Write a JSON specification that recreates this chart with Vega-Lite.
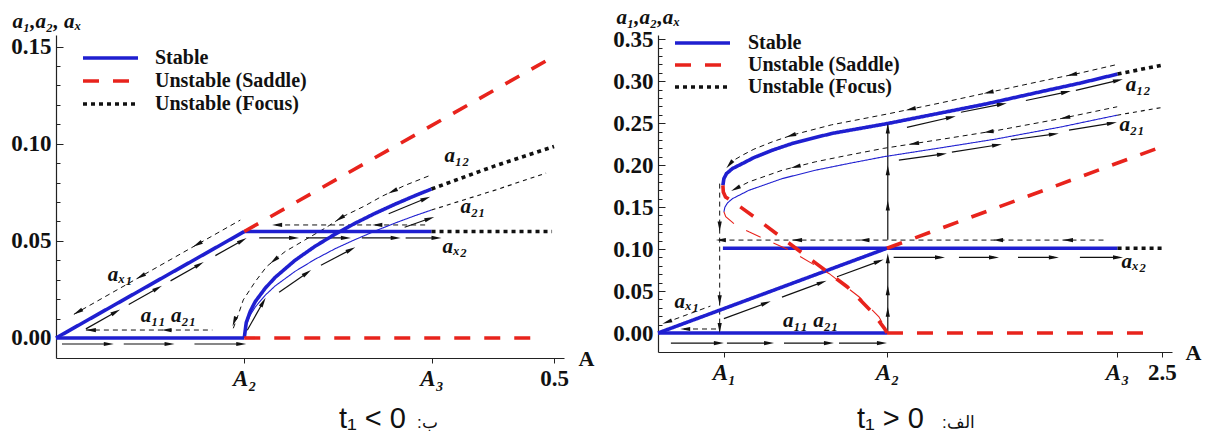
{
"$schema": "https://vega.github.io/schema/vega-lite/v6.json",
"background": "white",
"padding": {"left": 10, "top": 6, "right": 5, "bottom": 5},
"spacing": 94,
"bounds": "flush",
"resolve": {"scale": {"color": "independent", "strokeDash": "independent", "strokeWidth": "independent", "size": "independent"}, "legend": {"color": "independent", "strokeDash": "independent"}},
"config": {
  "view": {"stroke": null},
  "font": "Liberation Serif",
  "axis": {"labelFont": "Liberation Serif", "labelFontWeight": "bold", "labelFontSize": 23, "labelColor": "#111", "titleFont": "Liberation Serif", "titleFontWeight": "bold", "titleColor": "#111", "domainColor": "#222", "tickColor": "#222", "grid": false, "domainWidth": 1.2, "tickWidth": 1, "labelOverlap": false, "labelFlush": false, "labelBound": false},
  "legend": {"labelFont": "Liberation Serif", "labelFontWeight": "bold", "labelFontSize": 20, "labelColor": "#111", "symbolType": "stroke", "symbolSize": 3025, "symbolStrokeWidth": 3.6, "clipHeight": 20, "padding": 0}
},
"datasets": {
  "lc": [
    {"c":"ax1","k":"Stable","w":"thick","A":0,"y":0},{"c":"ax1","k":"Stable","w":"thick","A":0.189,"y":0.0548},
    {"c":"a11","k":"Stable","w":"thick","A":0,"y":0},{"c":"a11","k":"Stable","w":"thick","A":0.189,"y":0},
    {"c":"ax2","k":"Stable","w":"thick","A":0.189,"y":0.0548},{"c":"ax2","k":"Stable","w":"thick","A":0.377,"y":0.0548},
    {"c":"a12","k":"Stable","w":"thick","A":0.189,"y":0},{"c":"a12","k":"Stable","w":"thick","A":0.191,"y":0.0079},{"c":"a12","k":"Stable","w":"thick","A":0.195,"y":0.0137},{"c":"a12","k":"Stable","w":"thick","A":0.2,"y":0.0187},{"c":"a12","k":"Stable","w":"thick","A":0.21,"y":0.0256},{"c":"a12","k":"Stable","w":"thick","A":0.22,"y":0.0312},{"c":"a12","k":"Stable","w":"thick","A":0.24,"y":0.04},{"c":"a12","k":"Stable","w":"thick","A":0.26,"y":0.0472},{"c":"a12","k":"Stable","w":"thick","A":0.28,"y":0.0534},{"c":"a12","k":"Stable","w":"thick","A":0.3,"y":0.059},{"c":"a12","k":"Stable","w":"thick","A":0.32,"y":0.0641},{"c":"a12","k":"Stable","w":"thick","A":0.34,"y":0.0688},{"c":"a12","k":"Stable","w":"thick","A":0.36,"y":0.0732},{"c":"a12","k":"Stable","w":"thick","A":0.377,"y":0.0767},
    {"c":"a21","k":"Stable","w":"thin","A":0.189,"y":0},{"c":"a21","k":"Stable","w":"thin","A":0.191,"y":0.0068},{"c":"a21","k":"Stable","w":"thin","A":0.195,"y":0.0118},{"c":"a21","k":"Stable","w":"thin","A":0.2,"y":0.0159},{"c":"a21","k":"Stable","w":"thin","A":0.21,"y":0.022},{"c":"a21","k":"Stable","w":"thin","A":0.22,"y":0.0268},{"c":"a21","k":"Stable","w":"thin","A":0.24,"y":0.0343},{"c":"a21","k":"Stable","w":"thin","A":0.26,"y":0.0405},{"c":"a21","k":"Stable","w":"thin","A":0.28,"y":0.0459},{"c":"a21","k":"Stable","w":"thin","A":0.3,"y":0.0506},{"c":"a21","k":"Stable","w":"thin","A":0.32,"y":0.055},{"c":"a21","k":"Stable","w":"thin","A":0.34,"y":0.0591},{"c":"a21","k":"Stable","w":"thin","A":0.36,"y":0.0629},{"c":"a21","k":"Stable","w":"thin","A":0.377,"y":0.0659},
    {"c":"s1","k":"Unstable (Saddle)","w":"thick","A":0.189,"y":0.0548},{"c":"s1","k":"Unstable (Saddle)","w":"thick","A":0.5,"y":0.145},
    {"c":"s0","k":"Unstable (Saddle)","w":"thick","A":0.189,"y":0},{"c":"s0","k":"Unstable (Saddle)","w":"thick","A":0.487,"y":0},
    {"c":"f12","k":"Unstable (Focus)","w":"thick","A":0.377,"y":0.0767},{"c":"f12","k":"Unstable (Focus)","w":"thick","A":0.44,"y":0.0885},{"c":"f12","k":"Unstable (Focus)","w":"thick","A":0.5,"y":0.0986},
    {"c":"fx2","k":"Unstable (Focus)","w":"thick","A":0.377,"y":0.0548},{"c":"fx2","k":"Unstable (Focus)","w":"thick","A":0.498,"y":0.0548},
    {"c":"f21","k":"Unstable (Focus)","w":"thin","A":0.377,"y":0.0659},{"c":"f21","k":"Unstable (Focus)","w":"thin","A":0.44,"y":0.076},{"c":"f21","k":"Unstable (Focus)","w":"thin","A":0.492,"y":0.0849}
  ],
  "lg": [
    {"c":"g1","A":0.03,"y":0.0041},{"c":"g1","A":0.157,"y":0.0041},
    {"c":"g2","A":0.018,"y":0.0122},{"c":"g2","A":0.185,"y":0.0607},
    {"c":"g3","A":0.221,"y":0.0582},{"c":"g3","A":0.372,"y":0.0582},
    {"c":"g4","A":0.178,"y":0.005},{"c":"g4","A":0.183,"y":0.012},{"c":"g4","A":0.188,"y":0.0196},{"c":"g4","A":0.2,"y":0.029},{"c":"g4","A":0.2115,"y":0.0368},{"c":"g4","A":0.23,"y":0.0445},{"c":"g4","A":0.25,"y":0.0505},{"c":"g4","A":0.27,"y":0.0565},{"c":"g4","A":0.288,"y":0.0625},{"c":"g4","A":0.31,"y":0.068},{"c":"g4","A":0.327,"y":0.0729},{"c":"g4","A":0.35,"y":0.0785},{"c":"g4","A":0.377,"y":0.084}
  ],
  "ls": [
    {"A":0.006,"y":-0.0031,"A2":0.053,"y2":-0.0031},{"A":0.068,"y":-0.0031,"A2":0.114,"y2":-0.0031},{"A":0.139,"y":-0.0031,"A2":0.186,"y2":-0.0031},
    {"A":0.03,"y":0.0047,"A2":0.06,"y2":0.0134},{"A":0.073,"y":0.0172,"A2":0.102,"y2":0.0256},{"A":0.115,"y":0.0294,"A2":0.144,"y2":0.0378},{"A":0.16,"y":0.0424,"A2":0.187,"y2":0.0502},
    {"A":0.204,"y":0.0515,"A2":0.239,"y2":0.0515},{"A":0.251,"y":0.0515,"A2":0.291,"y2":0.0515},{"A":0.307,"y":0.0515,"A2":0.341,"y2":0.0515},{"A":0.351,"y":0.0515,"A2":0.382,"y2":0.0515},
    {"A":0.192,"y":0.004,"A2":0.208,"y2":0.0185},{"A":0.224,"y":0.0235,"A2":0.252,"y2":0.0335},{"A":0.266,"y":0.0375,"A2":0.296,"y2":0.0455},{"A":0.35,"y":0.057,"A2":0.375,"y2":0.0615},{"A":0.334,"y":0.064,"A2":0.371,"y2":0.0718}
  ],
  "lh": [
    {"A":0.053,"y":-0.0031,"ang":0},{"A":0.114,"y":-0.0031,"ang":0},{"A":0.186,"y":-0.0031,"ang":0},
    {"A":0.06,"y":0.0134,"ang":-29.5},{"A":0.102,"y":0.0256,"ang":-29.5},{"A":0.144,"y":0.0378,"ang":-29.5},{"A":0.187,"y":0.0502,"ang":-29.5},
    {"A":0.239,"y":0.0515,"ang":0},{"A":0.291,"y":0.0515,"ang":0},{"A":0.341,"y":0.0515,"ang":0},{"A":0.382,"y":0.0515,"ang":0},
    {"A":0.208,"y":0.0185,"ang":-60.5},{"A":0.252,"y":0.0335,"ang":-34.8},{"A":0.296,"y":0.0455,"ang":-27.4},{"A":0.375,"y":0.0615,"ang":-19.3},{"A":0.371,"y":0.0718,"ang":-22.3},
    {"A":0.035,"y":0.0041,"ang":180},{"A":0.111,"y":0.0041,"ang":180},
    {"A":0.022,"y":0.0134,"ang":150.5},{"A":0.085,"y":0.0317,"ang":150.5},{"A":0.142,"y":0.0482,"ang":150.5},
    {"A":0.222,"y":0.0582,"ang":180},{"A":0.3226,"y":0.0582,"ang":180},
    {"A":0.179,"y":0.0085,"ang":110},{"A":0.219,"y":0.04,"ang":141},{"A":0.285,"y":0.0615,"ang":147},{"A":0.338,"y":0.0755,"ang":154.5}
  ],
  "lt": [
    {"t":"a₁₂","A":0.39,"y":0.0935},{"t":"a₂₁","A":0.406,"y":0.0677},{"t":"aₓ₂","A":0.388,"y":0.047},{"t":"aₓ₁","A":0.052,"y":0.0325},{"t":"a₁₁ a₂₁","A":0.085,"y":0.0112}
  ],
  "lcap": [
    {"t":"t₁ < 0","A":0.284,"y":-0.0464,"p":"main"},{"t":":ب","A":0.3625,"y":-0.0464,"p":"ar"}
  ],
  "rc": [
    {"c":"ax1","k":"Stable","w":"thick","A":0,"y":0},{"c":"ax1","k":"Stable","w":"thick","A":1.136,"y":0.101},
    {"c":"a11","k":"Stable","w":"thick","A":0,"y":0},{"c":"a11","k":"Stable","w":"thick","A":1.136,"y":0},
    {"c":"ax2","k":"Stable","w":"thick","A":0.322,"y":0.101},{"c":"ax2","k":"Stable","w":"thick","A":2.28,"y":0.101},
    {"c":"a12","k":"Stable","w":"thick","A":0.322,"y":0.176},{"c":"a12","k":"Stable","w":"thick","A":0.327,"y":0.184},{"c":"a12","k":"Stable","w":"thick","A":0.34,"y":0.19},{"c":"a12","k":"Stable","w":"thick","A":0.37,"y":0.196},{"c":"a12","k":"Stable","w":"thick","A":0.42,"y":0.202},{"c":"a12","k":"Stable","w":"thick","A":0.476,"y":0.209},{"c":"a12","k":"Stable","w":"thick","A":0.57,"y":0.218},{"c":"a12","k":"Stable","w":"thick","A":0.669,"y":0.226},{"c":"a12","k":"Stable","w":"thick","A":0.861,"y":0.2377},{"c":"a12","k":"Stable","w":"thick","A":1.14,"y":0.2496},{"c":"a12","k":"Stable","w":"thick","A":1.4,"y":0.262},{"c":"a12","k":"Stable","w":"thick","A":1.63,"y":0.273},{"c":"a12","k":"Stable","w":"thick","A":1.9,"y":0.2875},{"c":"a12","k":"Stable","w":"thick","A":2.1,"y":0.298},{"c":"a12","k":"Stable","w":"thick","A":2.28,"y":0.3085},
    {"c":"a21","k":"Stable","w":"thin","A":0.327,"y":0.1444},{"c":"a21","k":"Stable","w":"thin","A":0.332,"y":0.15},{"c":"a21","k":"Stable","w":"thin","A":0.345,"y":0.155},{"c":"a21","k":"Stable","w":"thin","A":0.369,"y":0.16},{"c":"a21","k":"Stable","w":"thin","A":0.451,"y":0.17},{"c":"a21","k":"Stable","w":"thin","A":0.617,"y":0.184},{"c":"a21","k":"Stable","w":"thin","A":0.782,"y":0.194},{"c":"a21","k":"Stable","w":"thin","A":0.947,"y":0.202},{"c":"a21","k":"Stable","w":"thin","A":1.12,"y":0.21},{"c":"a21","k":"Stable","w":"thin","A":1.4,"y":0.2205},{"c":"a21","k":"Stable","w":"thin","A":1.675,"y":0.231},{"c":"a21","k":"Stable","w":"thin","A":2.0,"y":0.2455},{"c":"a21","k":"Stable","w":"thin","A":2.278,"y":0.2595},
    {"c":"s1","k":"Unstable (Saddle)","w":"thick","A":1.136,"y":0.101},{"c":"s1","k":"Unstable (Saddle)","w":"thick","A":2.5,"y":0.222},
    {"c":"s0","k":"Unstable (Saddle)","w":"thick","A":1.136,"y":0},{"c":"s0","k":"Unstable (Saddle)","w":"thick","A":2.475,"y":0},
    {"c":"sN","k":"Unstable (Saddle)","w":"thick","A":0.322,"y":0.176},{"c":"sN","k":"Unstable (Saddle)","w":"thick","A":0.324,"y":0.168},{"c":"sN","k":"Unstable (Saddle)","w":"thick","A":0.335,"y":0.162},{"c":"sN","k":"Unstable (Saddle)","w":"thick","A":0.369,"y":0.157},{"c":"sN","k":"Unstable (Saddle)","w":"thick","A":0.476,"y":0.1385},{"c":"sN","k":"Unstable (Saddle)","w":"thick","A":0.63,"y":0.1107},{"c":"sN","k":"Unstable (Saddle)","w":"thick","A":0.784,"y":0.0829},{"c":"sN","k":"Unstable (Saddle)","w":"thick","A":0.938,"y":0.0552},{"c":"sN","k":"Unstable (Saddle)","w":"thick","A":1.052,"y":0.0274},{"c":"sN","k":"Unstable (Saddle)","w":"thick","A":1.1,"y":0.013},{"c":"sN","k":"Unstable (Saddle)","w":"thick","A":1.125,"y":0.005},{"c":"sN","k":"Unstable (Saddle)","w":"thick","A":1.136,"y":0},
    {"c":"sT","k":"Unstable (Saddle)","w":"thin","A":0.327,"y":0.1444},{"c":"sT","k":"Unstable (Saddle)","w":"thin","A":0.336,"y":0.1385},{"c":"sT","k":"Unstable (Saddle)","w":"thin","A":0.385,"y":0.1286},{"c":"sT","k":"Unstable (Saddle)","w":"thin","A":0.451,"y":0.1206},{"c":"sT","k":"Unstable (Saddle)","w":"thin","A":0.65,"y":0.0988},{"c":"sT","k":"Unstable (Saddle)","w":"thin","A":0.848,"y":0.071},{"c":"sT","k":"Unstable (Saddle)","w":"thin","A":0.997,"y":0.0432},{"c":"sT","k":"Unstable (Saddle)","w":"thin","A":1.096,"y":0.0194},{"c":"sT","k":"Unstable (Saddle)","w":"thin","A":1.132,"y":0.0036},{"c":"sT","k":"Unstable (Saddle)","w":"thin","A":1.136,"y":0},
    {"c":"fx2","k":"Unstable (Focus)","w":"thick","A":2.28,"y":0.101},{"c":"fx2","k":"Unstable (Focus)","w":"thick","A":2.5,"y":0.101},
    {"c":"f12","k":"Unstable (Focus)","w":"thick","A":2.28,"y":0.3085},{"c":"f12","k":"Unstable (Focus)","w":"thick","A":2.5,"y":0.319},
    {"c":"f21","k":"Unstable (Focus)","w":"thin","A":2.278,"y":0.2595},{"c":"f21","k":"Unstable (Focus)","w":"thin","A":2.5,"y":0.2687}
  ],
  "rg": [
    {"c":"d1","A":0.129,"y":0.0048},{"c":"d1","A":0.303,"y":0.0048},
    {"c":"d2","A":0.04,"y":0.0126},{"c":"d2","A":0.26,"y":0.0321},
    {"c":"d3","A":0.31,"y":0.1107},{"c":"d3","A":2.23,"y":0.1107},
    {"c":"d4","A":0.352,"y":0.2},{"c":"d4","A":0.37,"y":0.205},{"c":"d4","A":0.42,"y":0.212},{"c":"d4","A":0.476,"y":0.219},{"c":"d4","A":0.57,"y":0.228},{"c":"d4","A":0.669,"y":0.236},{"c":"d4","A":0.861,"y":0.248},{"c":"d4","A":1.14,"y":0.261},{"c":"d4","A":1.4,"y":0.274},{"c":"d4","A":1.63,"y":0.286},{"c":"d4","A":1.9,"y":0.3},{"c":"d4","A":2.1,"y":0.31},{"c":"d4","A":2.28,"y":0.32},
    {"c":"d5","A":0.385,"y":0.172},{"c":"d5","A":0.451,"y":0.18},{"c":"d5","A":0.617,"y":0.194},{"c":"d5","A":0.782,"y":0.204},{"c":"d5","A":0.947,"y":0.212},{"c":"d5","A":1.12,"y":0.22},{"c":"d5","A":1.4,"y":0.2305},{"c":"d5","A":1.675,"y":0.241},{"c":"d5","A":2.0,"y":0.2555},{"c":"d5","A":2.278,"y":0.2695},
    {"c":"d7","A":0.306,"y":0.178},{"c":"d7","A":0.306,"y":0.002}
  ],
  "rs": [
    {"A":0.064,"y":-0.012,"A2":0.302,"y2":-0.012},{"A":0.342,"y":-0.012,"A2":0.551,"y2":-0.012},{"A":0.625,"y":-0.012,"A2":0.848,"y2":-0.012},{"A":0.898,"y":-0.012,"A2":1.111,"y2":-0.012},
    {"A":0.327,"y":0.0171,"A2":0.536,"y2":0.0357},{"A":0.615,"y":0.0427,"A2":0.813,"y2":0.0603},{"A":0.888,"y":0.067,"A2":1.096,"y2":0.0854},
    {"A":1.169,"y":0.09,"A2":1.399,"y2":0.09},{"A":1.493,"y":0.09,"A2":1.667,"y2":0.09},{"A":1.786,"y":0.09,"A2":1.964,"y2":0.09},{"A":2.093,"y":0.09,"A2":2.282,"y2":0.09},
    {"A":1.235,"y":0.245,"A2":1.453,"y2":0.257},{"A":1.503,"y":0.263,"A2":1.706,"y2":0.2726},{"A":1.825,"y":0.277,"A2":2.024,"y2":0.287},{"A":2.073,"y":0.289,"A2":2.282,"y2":0.301},
    {"A":1.195,"y":0.206,"A2":1.409,"y2":0.213},{"A":1.458,"y":0.2155,"A2":1.682,"y2":0.224},{"A":1.751,"y":0.23,"A2":1.964,"y2":0.237},{"A":2.039,"y":0.2417,"A2":2.252,"y2":0.25},
    {"A":1.14,"y":0,"A2":1.14,"y2":0.09},{"A":1.14,"y":0.111,"A2":1.14,"y2":0.25}
  ],
  "rh": [
    {"A":0.302,"y":-0.012,"ang":0},{"A":0.551,"y":-0.012,"ang":0},{"A":0.848,"y":-0.012,"ang":0},{"A":1.111,"y":-0.012,"ang":0},
    {"A":0.536,"y":0.0357,"ang":-20.3},{"A":0.813,"y":0.0603,"ang":-20.3},{"A":1.096,"y":0.0854,"ang":-20.3},
    {"A":1.399,"y":0.09,"ang":0},{"A":1.667,"y":0.09,"ang":0},{"A":1.964,"y":0.09,"ang":0},{"A":2.282,"y":0.09,"ang":0},
    {"A":1.453,"y":0.257,"ang":-12.9},{"A":1.706,"y":0.2726,"ang":-11.1},{"A":2.024,"y":0.287,"ang":-11.8},{"A":2.282,"y":0.301,"ang":-13.5},
    {"A":1.409,"y":0.213,"ang":-7.8},{"A":1.682,"y":0.224,"ang":-8.9},{"A":1.964,"y":0.237,"ang":-7.8},{"A":2.252,"y":0.25,"ang":-9.3},
    {"A":1.14,"y":0.0254,"ang":-90},{"A":1.14,"y":0.051,"ang":-90},{"A":1.14,"y":0.089,"ang":-90},{"A":1.14,"y":0.152,"ang":-90},{"A":1.14,"y":0.194,"ang":-90},{"A":1.14,"y":0.2436,"ang":-90},
    {"A":0.135,"y":0.0048,"ang":180},{"A":0.045,"y":0.013,"ang":159.7},
    {"A":0.312,"y":0.1107,"ang":180},{"A":0.69,"y":0.1107,"ang":180},{"A":1.024,"y":0.1107,"ang":180},{"A":1.687,"y":0.1107,"ang":180},{"A":2.034,"y":0.1107,"ang":180},
    {"A":0.355,"y":0.2008,"ang":130},{"A":0.66,"y":0.2353,"ang":161.4},{"A":1.254,"y":0.2667,"ang":168.2},{"A":1.64,"y":0.2866,"ang":167.8},{"A":2.054,"y":0.3077,"ang":167.6},
    {"A":0.385,"y":0.172,"ang":153.1},{"A":0.683,"y":0.198,"ang":165.8},{"A":1.27,"y":0.2255,"ang":171.1},{"A":1.64,"y":0.2397,"ang":172},{"A":2.02,"y":0.2564,"ang":168.4},
    {"A":0.306,"y":0.127,"ang":90},{"A":0.306,"y":0.039,"ang":90},{"A":0.306,"y":0.006,"ang":90}
  ],
  "rt": [
    {"t":"a₁₂","A":2.32,"y":0.295},{"t":"a₂₁","A":2.29,"y":0.2476},{"t":"aₓ₂","A":2.3,"y":0.085},{"t":"aₓ₁","A":0.082,"y":0.0373},{"t":"a₁₁ a₂₁","A":0.62,"y":0.0145}
  ],
  "rcap": [
    {"t":"t₁ > 0","A":0.987,"y":-0.1131,"p":"main"},{"t":":الف","A":1.409,"y":-0.1131,"p":"ar"}
  ]
},
"hconcat": [
  {
    "width": 508, "height": 323,
    "encoding": {
      "x": {"field": "A", "type": "quantitative", "scale": {"domain": [0, 0.51], "nice": false, "zero": false},
        "axis": {"values": [0.189, 0.377, 0.5], "labelExpr": "datum.value < 0.25 ? 'A₂' : datum.value < 0.45 ? 'A₃' : '0.5'", "labelFontStyle": {"condition": {"test": "datum.value > 0.45", "value": "normal"}, "value": "italic"}, "tickSize": 5, "labelPadding": 4, "title": "A", "titleX": 522, "titleY": 0, "titleAlign": "left", "titleBaseline": "middle", "titleAngle": 0, "titleFontSize": 22}},
      "y": {"field": "y", "type": "quantitative", "scale": {"domain": [-0.0103, 0.156], "nice": false, "zero": false},
        "axis": {"values": [0,0.01,0.02,0.03,0.04,0.05,0.06,0.07,0.08,0.09,0.1,0.11,0.12,0.13,0.14,0.15], "labelExpr": "abs(datum.value*20 - round(datum.value*20)) < 0.001 ? format(datum.value, '.2f') : ''", "tickSize": {"condition": {"test": "abs(datum.value*20 - round(datum.value*20)) < 0.001", "value": -7}, "value": -4}, "labelPadding": 12, "title": "a₁,a₂, aₓ", "titleAngle": 0, "titleX": -44, "titleY": -8, "titleAlign": "left", "titleBaseline": "alphabetic", "titleFontStyle": "italic", "titleFontSize": 21}}
    },
    "layer": [
      {"data": {"name": "lg"}, "mark": {"type": "line", "strokeDash": [5, 4], "strokeWidth": 1, "color": "#111"}, "encoding": {"detail": {"field": "c"}}},
      {"data": {"name": "ls"}, "mark": {"type": "rule", "strokeWidth": 1.2, "color": "#111"}, "encoding": {"x2": {"field": "A2"}, "y2": {"field": "y2"}}},
      {"data": {"name": "lc"}, "mark": {"type": "line", "strokeCap": "butt"},
        "encoding": {
          "detail": {"field": "c"},
          "color": {"field": "k", "type": "nominal", "scale": {"domain": ["Stable", "Unstable (Saddle)", "Unstable (Focus)"], "range": ["#1f1fd0", "#e8231c", "#111111"]}, "legend": {"orient": "none", "legendX": 25, "legendY": 13, "title": null, "rowPadding": 3, "labelOffset": 15}},
          "strokeDash": {"field": "k", "type": "nominal", "scale": {"domain": ["Stable", "Unstable (Saddle)", "Unstable (Focus)"], "range": [[1, 0], [16, 14], [4, 4]]}, "legend": {"orient": "none", "legendX": 25, "legendY": 13, "title": null, "rowPadding": 3, "labelOffset": 15}},
          "strokeWidth": {"field": "w", "type": "nominal", "scale": {"domain": ["thick", "thin"], "range": [3.6, 1.1]}, "legend": null}
        }},
      {"data": {"name": "lh"}, "mark": {"type": "point", "shape": "M -1 -0.42 L 1 0 L -1 0.42 Z", "size": 100, "filled": true, "color": "#111", "opacity": 1}, "encoding": {"angle": {"field": "ang", "type": "quantitative", "scale": null}}},
      {"data": {"name": "lt"}, "mark": {"type": "text", "align": "left", "baseline": "middle", "font": "Liberation Serif", "fontWeight": "bold", "fontStyle": "italic", "fontSize": 21, "color": "#111"}, "encoding": {"text": {"field": "t"}}},
      {"data": {"name": "lcap"}, "mark": {"type": "text", "align": "left", "baseline": "alphabetic", "font": "Liberation Sans", "color": "#111"}, "encoding": {"text": {"field": "t"}, "size": {"field": "p", "type": "nominal", "scale": {"domain": ["main", "ar"], "range": [29, 17]}, "legend": null}}}
    ]
  },
  {
    "width": 514, "height": 317,
    "encoding": {
      "x": {"field": "A", "type": "quantitative", "scale": {"domain": [0, 2.55], "nice": false, "zero": false},
        "axis": {"values": [0.327, 1.136, 2.277, 2.5], "labelExpr": "datum.value < 0.6 ? 'A₁' : datum.value < 1.5 ? 'A₂' : datum.value < 2.4 ? 'A₃' : '2.5'", "labelFontStyle": {"condition": {"test": "datum.value > 2.4", "value": "normal"}, "value": "italic"}, "tickSize": 5, "labelPadding": 4, "title": "A", "titleX": 527, "titleY": 0, "titleAlign": "left", "titleBaseline": "middle", "titleAngle": 0, "titleFontSize": 22}},
      "y": {"field": "y", "type": "quantitative", "scale": {"domain": [-0.0226, 0.355], "nice": false, "zero": false},
        "axis": {"values": [0,0.01,0.02,0.03,0.04,0.05,0.06,0.07,0.08,0.09,0.1,0.11,0.12,0.13,0.14,0.15,0.16,0.17,0.18,0.19,0.2,0.21,0.22,0.23,0.24,0.25,0.26,0.27,0.28,0.29,0.3,0.31,0.32,0.33,0.34,0.35], "labelExpr": "abs(datum.value*20 - round(datum.value*20)) < 0.001 ? format(datum.value, '.2f') : ''", "tickSize": {"condition": {"test": "abs(datum.value*20 - round(datum.value*20)) < 0.001", "value": -7}, "value": -4}, "labelPadding": 12, "title": "a₁,a₂,aₓ", "titleAngle": 0, "titleX": -42, "titleY": -12, "titleAlign": "left", "titleBaseline": "alphabetic", "titleFontStyle": "italic", "titleFontSize": 21}}
    },
    "layer": [
      {"data": {"name": "rg"}, "mark": {"type": "line", "strokeDash": [5, 4], "strokeWidth": 1, "color": "#111"}, "encoding": {"detail": {"field": "c"}}},
      {"data": {"name": "rs"}, "mark": {"type": "rule", "strokeWidth": 1.2, "color": "#111"}, "encoding": {"x2": {"field": "A2"}, "y2": {"field": "y2"}}},
      {"data": {"name": "rc"}, "mark": {"type": "line", "strokeCap": "butt"},
        "encoding": {
          "detail": {"field": "c"},
          "color": {"field": "k", "type": "nominal", "scale": {"domain": ["Stable", "Unstable (Saddle)", "Unstable (Focus)"], "range": ["#1f1fd0", "#e8231c", "#111111"]}, "legend": {"orient": "none", "legendX": 15, "legendY": -2, "title": null, "rowPadding": 2, "labelOffset": 16}},
          "strokeDash": {"field": "k", "type": "nominal", "scale": {"domain": ["Stable", "Unstable (Saddle)", "Unstable (Focus)"], "range": [[1, 0], [16, 14], [4, 4]]}, "legend": {"orient": "none", "legendX": 15, "legendY": -2, "title": null, "rowPadding": 2, "labelOffset": 16}},
          "strokeWidth": {"field": "w", "type": "nominal", "scale": {"domain": ["thick", "thin"], "range": [3.6, 1.1]}, "legend": null}
        }},
      {"data": {"name": "rh"}, "mark": {"type": "point", "shape": "M -1 -0.42 L 1 0 L -1 0.42 Z", "size": 100, "filled": true, "color": "#111", "opacity": 1}, "encoding": {"angle": {"field": "ang", "type": "quantitative", "scale": null}}},
      {"data": {"name": "rt"}, "mark": {"type": "text", "align": "left", "baseline": "middle", "font": "Liberation Serif", "fontWeight": "bold", "fontStyle": "italic", "fontSize": 21, "color": "#111"}, "encoding": {"text": {"field": "t"}}},
      {"data": {"name": "rcap"}, "mark": {"type": "text", "align": "left", "baseline": "alphabetic", "font": "Liberation Sans", "color": "#111"}, "encoding": {"text": {"field": "t"}, "size": {"field": "p", "type": "nominal", "scale": {"domain": ["main", "ar"], "range": [29, 17]}, "legend": null}}}
    ]
  }
]
}
